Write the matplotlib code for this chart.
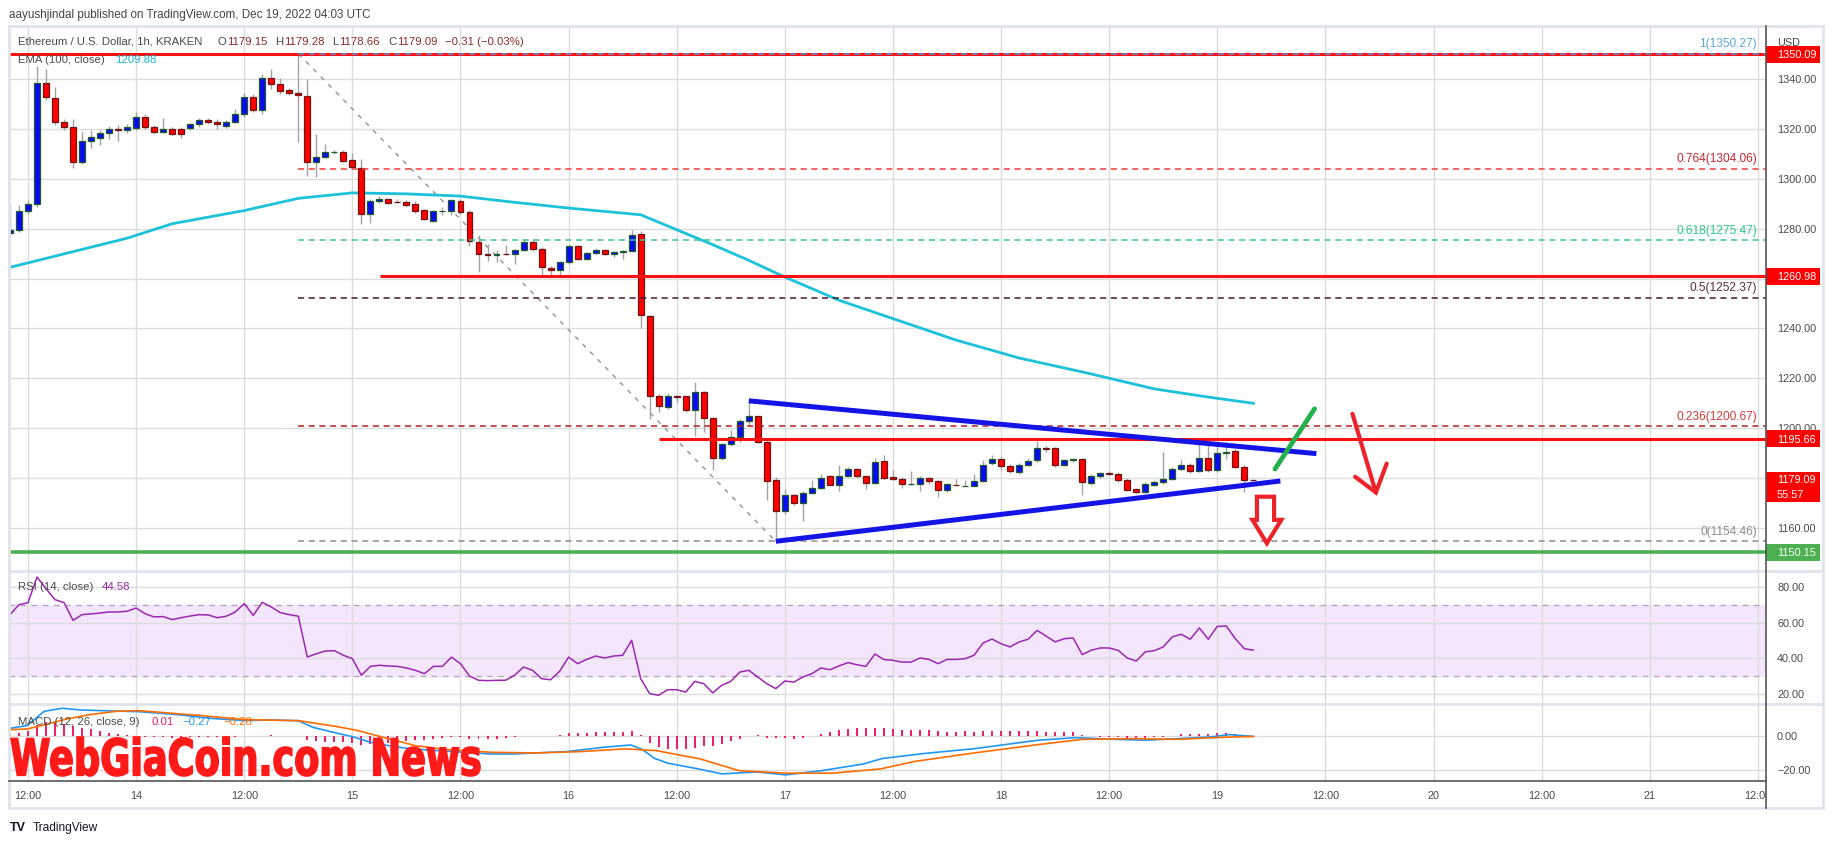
import matplotlib
matplotlib.use("Agg")
import matplotlib.pyplot as plt
from matplotlib import transforms
from matplotlib.font_manager import FontProperties
from matplotlib.lines import Line2D
from matplotlib.patches import PathPatch, Polygon, Rectangle
from matplotlib.textpath import TextPath

plt.rcParams['font.family'] = ['Liberation Sans', 'DejaVu Sans']

# ---- data: ETH/USD 1h candles, hours counted from Dec 13 00:00 UTC ----
hours = list(range(10, 149))
opens = [
    1278.3, 1279.3, 1287.3, 1290.0, 1338.7, 1332.3, 1323.0, 1320.7, 1306.7, 1315.3,
    1316.4, 1318.3, 1319.9, 1319.5, 1320.3, 1325.0, 1320.7, 1319.0, 1320.0, 1320.0,
    1320.3, 1322.0, 1323.6, 1323.0, 1321.3, 1323.0, 1325.9, 1332.7, 1327.7, 1340.7,
    1338.3, 1335.7, 1334.7, 1333.3, 1306.7, 1308.7, 1310.7, 1311.0, 1307.6, 1304.3,
    1286.1, 1291.2, 1292.0, 1290.9, 1290.8, 1289.9, 1287.5, 1283.3, 1287.1, 1287.1,
    1291.2, 1286.7, 1274.7, 1269.9, 1269.6, 1269.9, 1269.7, 1271.5, 1274.7, 1272.0,
    1264.3, 1263.3, 1266.7, 1273.0, 1267.9, 1270.3, 1271.5, 1269.7, 1270.7, 1271.0,
    1277.9, 1244.9, 1212.7, 1208.3, 1212.8, 1212.7, 1207.3, 1214.3, 1203.9, 1187.9,
    1193.5, 1196.3, 1202.7, 1204.7, 1194.3, 1179.2, 1166.7, 1172.9, 1169.9, 1173.9,
    1175.9, 1180.7, 1177.3, 1180.9, 1183.5, 1180.7, 1177.9, 1186.8, 1180.2, 1179.5,
    1177.5, 1177.5, 1179.9, 1178.7, 1175.2, 1177.3, 1176.8, 1176.9, 1178.7, 1185.9,
    1187.5, 1184.7, 1182.3, 1185.3, 1187.1, 1192.0, 1191.8, 1185.1, 1187.3, 1187.6,
    1177.9, 1180.6, 1182.0, 1181.7, 1179.3, 1175.3, 1174.4, 1177.3, 1178.4, 1179.7,
    1183.7, 1185.3, 1182.8, 1188.0, 1183.0, 1190.0, 1190.9, 1184.4, 1179.15,
]
highs = [
    1289.5, 1289.7, 1291.5, 1345.3, 1344.0, 1337.0, 1324.0, 1324.0, 1318.9, 1319.7,
    1319.5, 1321.1, 1321.5, 1322.0, 1326.7, 1326.0, 1321.5, 1324.3, 1321.0, 1321.0,
    1322.5, 1324.3, 1324.5, 1324.0, 1323.5, 1328.0, 1334.7, 1334.0, 1342.0, 1344.0,
    1340.7, 1336.5, 1350.3, 1340.0, 1318.0, 1314.0, 1311.5, 1311.5, 1310.4, 1308.0,
    1292.0, 1293.3, 1292.5, 1292.0, 1291.5, 1291.2, 1288.0, 1287.5, 1288.7, 1291.8,
    1291.8, 1287.5, 1277.6, 1274.0, 1271.3, 1273.6, 1272.0, 1276.0, 1276.0, 1272.7,
    1265.0, 1267.0, 1273.5, 1273.3, 1270.8, 1272.3, 1271.9, 1271.0, 1271.5, 1279.3,
    1278.9, 1245.5, 1213.5, 1214.0, 1213.3, 1213.0, 1218.5, 1214.8, 1204.5, 1194.0,
    1199.0, 1203.5, 1211.3, 1205.0, 1195.0, 1180.5, 1175.3, 1173.5, 1174.5, 1179.3,
    1181.6, 1181.2, 1185.2, 1184.3, 1184.0, 1181.2, 1187.9, 1189.2, 1183.3, 1180.3,
    1182.8, 1180.6, 1180.4, 1179.2, 1178.0, 1179.6, 1179.3, 1181.6, 1187.2, 1189.2,
    1188.2, 1185.5, 1186.0, 1188.0, 1194.9, 1192.8, 1192.4, 1187.6, 1188.0, 1188.0,
    1181.5, 1182.5, 1182.6, 1182.3, 1179.8, 1175.8, 1178.2, 1179.0, 1190.4, 1184.4,
    1187.0, 1186.0, 1193.7, 1193.0, 1193.7, 1194.4, 1191.5, 1185.0, 1179.28,
]
lows = [
    1276.5, 1278.5, 1286.0, 1288.7, 1331.5, 1321.5, 1319.5, 1304.3, 1306.0, 1312.3,
    1313.7, 1316.0, 1315.3, 1318.5, 1319.5, 1320.0, 1318.0, 1318.5, 1317.5, 1316.3,
    1319.5, 1321.0, 1322.0, 1320.0, 1320.5, 1322.5, 1325.0, 1327.0, 1326.0, 1336.0,
    1334.0, 1333.5, 1314.7, 1301.0, 1300.7, 1308.3, 1310.0, 1306.7, 1304.5, 1281.7,
    1282.4, 1290.5, 1290.0, 1290.4, 1289.2, 1286.5, 1283.5, 1282.8, 1285.6, 1285.7,
    1286.0, 1273.1, 1262.7, 1267.0, 1266.7, 1269.5, 1265.7, 1271.0, 1271.2, 1261.3,
    1260.7, 1260.7, 1266.0, 1267.5, 1267.5, 1270.0, 1269.3, 1268.7, 1268.0, 1270.5,
    1240.3, 1203.6, 1206.3, 1207.5, 1210.5, 1206.5, 1196.9, 1198.3, 1183.0, 1187.0,
    1192.8, 1194.3, 1201.0, 1194.0, 1170.9, 1154.5, 1165.5, 1169.0, 1162.7, 1173.5,
    1175.5, 1177.0, 1174.5, 1180.5, 1180.0, 1175.3, 1177.5, 1179.5, 1179.0, 1176.0,
    1177.2, 1174.8, 1177.5, 1172.3, 1174.2, 1176.8, 1176.5, 1176.5, 1178.2, 1185.2,
    1183.2, 1182.0, 1181.6, 1184.8, 1186.5, 1190.5, 1184.5, 1184.6, 1186.5, 1173.1,
    1177.2, 1180.0, 1181.2, 1178.5, 1174.6, 1173.9, 1173.9, 1176.6, 1177.6, 1179.2,
    1183.2, 1181.9, 1182.2, 1182.4, 1182.3, 1187.5, 1183.8, 1174.4, 1178.66,
]
closes = [
    1279.6, 1287.3, 1290.0, 1338.7, 1332.7, 1323.0, 1320.7, 1306.7, 1315.3, 1316.7,
    1318.3, 1319.9, 1319.5, 1320.7, 1325.0, 1321.0, 1318.9, 1320.0, 1318.0, 1317.9,
    1321.9, 1323.6, 1322.7, 1321.9, 1322.9, 1325.9, 1332.7, 1327.7, 1340.7, 1338.3,
    1335.3, 1334.7, 1333.7, 1306.7, 1308.7, 1310.7, 1311.0, 1307.3, 1304.7, 1286.0,
    1291.2, 1292.0, 1290.5, 1290.7, 1289.7, 1287.1, 1283.9, 1287.1, 1287.3, 1291.6,
    1286.7, 1274.9, 1269.7, 1269.3, 1269.9, 1269.8, 1271.5, 1274.7, 1271.7, 1264.7,
    1263.3, 1266.7, 1273.0, 1267.9, 1270.3, 1271.5, 1269.7, 1270.7, 1271.0, 1277.5,
    1245.5, 1212.7, 1208.7, 1212.7, 1212.5, 1207.3, 1214.3, 1203.9, 1187.9, 1193.5,
    1196.3, 1202.7, 1204.7, 1194.3, 1178.7, 1166.7, 1172.9, 1169.9, 1173.9, 1175.9,
    1180.1, 1177.3, 1180.9, 1183.5, 1180.7, 1177.9, 1186.5, 1180.1, 1179.5, 1177.5,
    1177.6, 1179.9, 1178.7, 1175.2, 1177.5, 1177.2, 1176.9, 1178.7, 1185.2, 1187.5,
    1184.7, 1182.7, 1185.2, 1186.9, 1192.0, 1191.5, 1185.1, 1187.1, 1187.5, 1178.2,
    1180.9, 1181.9, 1181.7, 1179.1, 1175.1, 1174.4, 1177.7, 1178.4, 1179.7, 1183.7,
    1185.3, 1182.7, 1188.0, 1183.0, 1190.0, 1190.5, 1184.4, 1179.2, 1179.09,
]

ema_hours = [10, 16, 23, 28, 36, 42, 48, 54, 60, 66, 72, 80, 84, 88, 92, 96, 102,
             108, 115, 122, 130, 137, 143, 148]
ema_values = [1264.5, 1269.9, 1276.2, 1282.0, 1287.3, 1292.2, 1294.4, 1294.0, 1293.1,
              1290.6, 1288.3, 1285.6, 1279.6, 1273.6, 1267.3, 1260.6, 1251.3, 1243.9,
              1235.3, 1228.1, 1221.7, 1215.7, 1212.4, 1209.9]

rsi_values = [
    64.5, 70.1, 71.2, 85.6, 79.0, 72.9, 71.2, 61.3, 64.5, 64.9,
    65.4, 66.0, 66.0, 66.4, 68.2, 65.0, 63.2, 63.4, 61.7, 62.8,
    63.7, 64.5, 64.3, 62.8, 63.6, 66.0, 70.7, 64.1, 71.4, 68.8,
    65.6, 64.5, 63.6, 40.7, 42.6, 44.1, 44.3, 41.7, 39.8, 30.5,
    35.5, 36.1, 35.7, 35.5, 34.6, 33.3, 31.4, 35.5, 35.5, 40.7,
    37.0, 30.1, 27.7, 27.5, 27.7, 27.7, 30.5, 35.1, 33.3, 28.6,
    28.0, 32.7, 40.7, 37.0, 39.4, 41.3, 40.2, 41.3, 41.7, 50.1,
    28.6, 20.2, 19.3, 22.4, 22.4, 21.1, 27.1, 25.8, 20.6, 24.9,
    27.1, 32.3, 33.3, 29.5, 25.8, 23.0, 27.3, 26.7, 29.5, 31.4,
    34.6, 33.6, 35.7, 37.6, 36.4, 35.5, 42.4, 39.3, 38.9, 37.9,
    37.9, 40.2, 39.4, 37.0, 39.4, 39.4, 39.8, 41.7, 48.6, 50.8,
    48.2, 46.4, 49.2, 50.7, 55.7, 52.5, 49.2, 51.0, 51.4, 42.1,
    44.5, 45.8, 45.8, 44.5, 40.2, 38.5, 43.6, 44.3, 46.4, 52.0,
    53.5, 50.7, 57.0, 50.7, 57.9, 58.1, 51.0, 45.4, 44.58,
]

macd_hours = [10, 11.9, 13.8, 15.8, 17.8, 21.3, 24.3, 28.7, 32.2, 36.1, 38.6, 42,
              43.6, 45.6, 48, 50, 52, 54.5, 57.4, 60.4, 63.4, 65.9, 68.3, 71.8, 75.8,
              78.9, 80.2, 81.5, 83, 86.4, 89, 92.9, 96.1, 100.1, 104.7, 106.8, 111.3,
              117, 124.1, 128.3, 132.6, 136.1, 139.6, 143.2, 145.3, 148]
macd_values = [4.5, 6.1, 14.5, 16.3, 15.3, 14.7, 14.3, 12.5, 10.4, 9.0, 9.4, 9.0,
               5.1, 2.5, -0.4, -3.7, -5.7, -7.6, -8.6, -9.6, -10.6, -10.6, -10.0, -9.2,
               -6.7, -5.3, -8.0, -13.1, -16.0, -19.4, -22.3, -21.2, -22.9, -20.4, -16.5,
               -13.3, -10.4, -7.5, -2.5, -1.0, -2.0, -2.5, -1.6, -0.6, 0.8, -0.27]
signal_hours = [10, 11.9, 13.8, 16.3, 18.8, 21.8, 24.3, 26.7, 31.2, 36.1, 42, 46.1,
                48.5, 52, 55, 58.4, 63.4, 68.3, 73.3, 78.3, 81.7, 86.6, 90.9, 96.1,
                101.3, 106.6, 110.4, 117, 124.1, 129, 134.7, 139.6, 144.6, 148]
signal_values = [3.7, 4.1, 6.5, 10.0, 12.5, 14.5, 14.9, 13.9, 12.0, 9.6, 9.0, 5.7,
                 3.3, -1.6, -5.7, -8.0, -9.6, -10.0, -9.2, -7.6, -8.6, -13.5, -20.4,
                 -21.9, -21.9, -19.4, -15.0, -10.0, -5.1, -2.0, -1.6, -2.0, -0.8, -0.28]
hist_values = [
    1.0, 1.8, 3.0, 6.5, 8.0, 8.0, 7.0, 5.8, 4.8, 3.8,
    2.8, 2.0, 1.2, 0.5, -0.2, -0.5, -0.8, -0.9, -1.0, -1.0,
    -0.9, -0.9, -0.8, -0.8, -0.7, -0.5, -0.3, -0.3, 0.2, 0.3,
    0.2, 0.0, -0.1, -2.2, -3.0, -3.4, -3.6, -3.8, -4.0, -5.2,
    -5.0, -4.6, -4.2, -3.6, -3.0, -2.6, -2.4, -1.8, -1.4, -0.6,
    -0.5, -1.6, -2.0, -1.9, -1.6, -1.2, -0.8, -0.2, 0.0, -0.3,
    -0.2, 0.4, 1.5, 1.6, 1.9, 2.2, 2.2, 2.3, 2.3, 3.2,
    0.5, -4.0, -6.5, -7.5, -7.8, -7.5, -7.0, -5.9, -5.9, -4.5,
    -3.1, -1.6, -0.2, 0.6, -1.2, -1.2, -1.2, -1.6, -1.2, 0.0,
    1.4, 2.4, 3.3, 4.3, 4.7, 4.9, 4.9, 4.5, 4.1, 3.7,
    3.5, 3.3, 3.3, 2.7, 2.5, 2.5, 2.7, 2.5, 2.9, 3.1,
    3.1, 3.1, 3.1, 3.1, 3.1, 2.5, 2.5, 2.2, 2.2, 0.4,
    0.0, -0.4, -0.4, -0.8, -1.2, -1.2, -1.2, -0.8, -0.4, 0.0,
    1.0, 1.2, 1.4, 1.4, 2.0, 1.6, 1.2, 0.4, 0.01,
]

# fibonacci retracement drawn from the 1350.27 top to the 1154.46 low
fib_start = 42
fib_end = 95
fib_names = ['1', '0.764', '0.618', '0.5', '0.236', '0']
fib_prices = [1350.27, 1304.06, 1275.47, 1252.37, 1200.67, 1154.46]
fib_line_colors = ['#5b8fd6', '#f23b3b', '#3cc49a', '#4a1a2a', '#b22222', '#8c8c8c']
fib_text_colors = ['#5ea6da', '#c62832', '#2ec78e', '#5c2a3f', '#d23b3b', '#8c8c8c']

# horizontal levels: price, start hour, colour
level_prices = [1350.09, 1260.98, 1195.66, 1150.15]
level_starts = [9.89, 51.1, 82.0, 9.89]
level_colors = ['#ff1010', '#ff1010', '#ff1010', '#4caf50']

# hand drawn pattern lines
tri_upper_h, tri_upper_p = [92, 155], [1210.9, 1189.7]
tri_lower_h, tri_lower_p = [95, 151], [1154.5, 1178.7]
green_h, green_p = [150.4, 154.8], [1183.5, 1207.7]
arrow_shaft_h, arrow_shaft_p = [159.0, 161.6], [1205.7, 1174.1]
arrow_head_h, arrow_head_p = [159.3, 161.6, 162.8], [1180.4, 1174.1, 1185.7]
hollow_h = [148.4, 148.4, 150.3, 150.3, 151.1, 149.5, 147.9]
hollow_p = [1163.1, 1172.4, 1172.4, 1163.1, 1163.1, 1153.7, 1163.1]

tick_hours = list(range(12, 205, 12))
tick_labels = ['12:00', '14', '12:00', '15', '12:00', '16', '12:00', '17', '12:00',
               '18', '12:00', '19', '12:00', '20', '12:00', '21', '12:00']
price_ticks = list(range(1160, 1341, 20))
rsi_ticks = [20, 40, 60, 80]
macd_ticks = [-20, 0]

# ---- layout (pixels of the 1834x845 image) ----
W, H = 1834, 845
L, R = 9, 1766
XLIM = (9.89, 204.9)


def fx(px):
    return px / W


def fy(py):
    return 1 - py / H


fig = plt.figure(figsize=(W / 100, H / 100), dpi=100)
fig.patch.set_facecolor('white')


def add_pane(top, bottom, ylim, yticks):
    a = fig.add_axes([fx(L), fy(bottom), (R - L) / W, (bottom - top) / H])
    a.set_xlim(*XLIM)
    a.set_ylim(*ylim)
    for s in a.spines.values():
        s.set_visible(False)
    a.set_xticks(tick_hours)
    a.set_yticks(yticks)
    a.tick_params(length=0, labelbottom=False, labelleft=False)
    a.grid(True, color='#dcdcdc', linewidth=1)
    a.set_axisbelow(True)
    return a


ax = add_pane(28, 572, (1142.57, 1361.0), price_ticks)
ax_rsi = add_pane(572, 705, (14.4, 88.96), rsi_ticks)
ax_macd = add_pane(705, 782, (-26.5, 18.8), macd_ticks)

AXIS_COLOR = '#4a4a4a'


def right_text(a, val, s, color=AXIS_COLOR, **kw):
    tr = transforms.blended_transform_factory(fig.transFigure, a.transData)
    return a.text(fx(1777), val, s, transform=tr, fontsize=7.8, color=color,
                  va='center', ha='left', clip_on=False, **kw)


def price_box(a, val, s, color, h_px=17):
    tr = transforms.blended_transform_factory(fig.transFigure, a.transData)
    y0, y1 = a.get_ylim()
    bbox = a.get_position()
    per_px = (y1 - y0) / (bbox.height * H)
    a.add_patch(Rectangle((fx(1766), val - h_px / 2 * per_px), 54 / W, h_px * per_px,
                          transform=tr, facecolor=color, edgecolor='none',
                          clip_on=False, zorder=20))
    right_text(a, val, s, color='white', zorder=21)


# ---- main pane ----
for h, o, hi, lo, c in zip(hours, opens, highs, lows, closes):
    up = c >= o
    ax.vlines(h, lo, hi, color='#a3a3a3', linewidth=1, zorder=3)
    ax.add_patch(Rectangle((h - 0.33, min(o, c)), 0.66, abs(c - o),
                           facecolor='#0a0af2' if up else '#ff0000',
                           edgecolor='#1e5b2c' if up else '#6e1616',
                           linewidth=0.9, zorder=4))

ax.plot(ema_hours, ema_values, color='#1cc2da', linewidth=2, zorder=2.5)

for p, start, col in zip(level_prices, level_starts, level_colors):
    ax.hlines(p, start, XLIM[1], color=col, linewidth=2.2 if col != '#4caf50' else 2.6,
              zorder=5)

ax.plot([fib_start, fib_end], [fib_prices[0], fib_prices[-1]], color='#9a9a9a',
        linewidth=1.1, linestyle=(0, (3, 4)), zorder=2)
tr_fib = transforms.blended_transform_factory(fig.transFigure, ax.transData)
tr_fib = transforms.offset_copy(tr_fib, fig=fig, y=10.5, units='dots')
for name, p, lc, tc in zip(fib_names, fib_prices, fib_line_colors, fib_text_colors):
    ax.hlines(p, fib_start, XLIM[1], color=lc, linewidth=1.1,
              linestyle=(0, (4, 3)), zorder=5.5)
    ax.text(fx(1757), p, f'{name}({p:.2f})', transform=tr_fib, ha='right',
            va='center', fontsize=8.6, color=tc, zorder=6)

ax.plot(tri_upper_h, tri_upper_p, color='#1414e6', linewidth=3.6, zorder=7,
        solid_capstyle='butt')
ax.plot(tri_lower_h, tri_lower_p, color='#1414e6', linewidth=3.6, zorder=7,
        solid_capstyle='butt')
ax.plot(green_h, green_p, color='#22b04a', linewidth=3.4, zorder=7,
        solid_capstyle='round')
ax.plot(arrow_shaft_h, arrow_shaft_p, color='#ee2229', linewidth=3, zorder=7,
        solid_capstyle='round')
ax.plot(arrow_head_h, arrow_head_p, color='#ee2229', linewidth=3, zorder=7,
        solid_capstyle='round', solid_joinstyle='miter')
ax.add_patch(Polygon(list(zip(hollow_h, hollow_p)), closed=True, fill=False,
                     edgecolor='#ee2229', linewidth=3, zorder=7))

for p in price_ticks:
    right_text(ax, p, f'{p:.2f}')
right_text(ax, 1361.0 - 6.0, 'USD')
price_box(ax, 1350.09, '1350.09', '#ff0000')
price_box(ax, 1260.98, '1260.98', '#ff0000')
price_box(ax, 1195.66, '1195.66', '#ff0000')
price_box(ax, 1150.15, '1150.15', '#4caf50')
# last price with countdown
tr_r = transforms.blended_transform_factory(fig.transFigure, ax.transData)
ax.add_patch(Rectangle((fx(1766), 1170.3), 54 / W, 12.0, transform=tr_r,
                       facecolor='#ff0000', edgecolor='none', clip_on=False, zorder=20))
right_text(ax, 1179.6, '1179.09', color='white', zorder=21)
right_text(ax, 1173.6, '55:57', color='white', zorder=21)

# ---- RSI pane ----
ax_rsi.axhspan(30, 70, color='#f3e6fd', zorder=0)
for lvl in (30, 70):
    ax_rsi.axhline(lvl, color='#b4a8bd', linewidth=1, linestyle=(0, (4, 4)))
ax_rsi.plot(hours, rsi_values, color='#9c27b0', linewidth=1.1, zorder=3)
for v in rsi_ticks:
    right_text(ax_rsi, v, f'{v:.2f}')

# ---- MACD pane ----
ax_macd.bar(hours, hist_values, width=0.22, color='#ef1f6a', zorder=2)
ax_macd.plot(macd_hours, macd_values, color='#2196f3', linewidth=1.2, zorder=3)
ax_macd.plot(signal_hours, signal_values, color='#ff6d00', linewidth=1.2, zorder=3)
for v in macd_ticks:
    right_text(ax_macd, v, f'{v:.2f}'.replace('-', '\u2212'))

# ---- time axis labels (last one is cut by the price scale) ----
tr_x = transforms.blended_transform_factory(ax_macd.transData, fig.transFigure)
clip = transforms.Bbox.from_extents(L, 0, R, H)
for h, lab in zip(tick_hours, tick_labels):
    t = fig.text(h, fy(796), lab, transform=tr_x, ha='center', va='center',
                 fontsize=7.8, color=AXIS_COLOR)
    t.set_clip_box(clip)
    t.set_clip_on(True)


# ---- frame lines ----
def fig_line(x0, y0, x1, y1, color, lw):
    fig.add_artist(Line2D([fx(x0), fx(x1)], [fy(y0), fy(y1)], transform=fig.transFigure,
                          color=color, linewidth=lw, zorder=30))


fig.add_artist(Rectangle((fx(9), fy(809)), (1823 - 9) / W, (809 - 27) / H,
                         transform=fig.transFigure, fill=False, edgecolor='#e0e3eb',
                         linewidth=2, zorder=29))
fig_line(9, 572, 1823, 572, '#e0e3eb', 2)
fig_line(9, 705, 1823, 705, '#e0e3eb', 2)
fig_line(9, 782, 1766, 782, '#555555', 1.2)
fig_line(1766, 27, 1766, 809, '#555555', 1.2)

# ---- legends / header ----
fig.text(fx(9), fy(15), 'aayushjindal published on TradingView.com, Dec 19, 2022 04:03 UTC',
         fontsize=8.4, color='#444444', va='center')
fig.text(fx(18), fy(42), 'Ethereum / U.S. Dollar, 1h, KRAKEN', fontsize=8.2,
         color=AXIS_COLOR, va='center')
ohlc_keys = ['O', 'H', 'L', 'C']
ohlc_vals = ['1179.15', '1179.28', '1178.66', '1179.09']
ohlc_x = [218, 275, 332, 388]
ohlc_gap = [9.5, 9, 7, 9]
for k, v, x, g in zip(ohlc_keys, ohlc_vals, ohlc_x, ohlc_gap):
    fig.text(fx(x), fy(42), k, fontsize=8.2, color=AXIS_COLOR, va='center')
    fig.text(fx(x + g), fy(42), v, fontsize=8.2, color='#8b2b2b', va='center')
fig.text(fx(445), fy(42), '\u22120.31 (\u22120.03%)', fontsize=8.2, color='#8b2b2b',
         va='center')
fig.text(fx(18), fy(60), 'EMA (100, close)', fontsize=8.2, color=AXIS_COLOR, va='center')
fig.text(fx(115), fy(60), '1209.88', fontsize=8.2, color='#14b8d4', va='center')
fig.text(fx(18), fy(587), 'RSI (14, close)', fontsize=8.2, color=AXIS_COLOR, va='center')
fig.text(fx(102), fy(587), '44.58', fontsize=8.2, color='#9c27b0', va='center')
fig.text(fx(18), fy(722), 'MACD (12, 26, close, 9)', fontsize=8.2, color=AXIS_COLOR,
         va='center')
fig.text(fx(152), fy(722), '0.01', fontsize=8.2, color='#e91e63', va='center')
fig.text(fx(182), fy(722), '\u22120.27', fontsize=8.2, color='#2196f3', va='center')
fig.text(fx(223), fy(722), '\u22120.28', fontsize=8.2, color='#ff6d00', va='center')

fig.text(fx(10), fy(828), 'TV', fontsize=9, weight='bold', color='#131722', va='center')
fig.text(fx(33), fy(828), 'TradingView', fontsize=8.6, color='#131722', va='center')

# ---- watermark: heavy condensed lettering squeezed into its box ----
fp = FontProperties(family=['DejaVu Sans'], weight='bold')
tp = TextPath((0, 0), 'WebGiaCoin.com News', size=50, prop=fp)
ext = tp.get_extents()
wm = transforms.Affine2D().translate(-ext.x0, -ext.y0).scale(
    (480 - 11) / ext.width, (777 - 738) / ext.height).translate(11, H - 777)
fig.add_artist(PathPatch(tp, transform=wm, facecolor='#ff1a1a', edgecolor='#ff1a1a',
                         linewidth=1.2, zorder=40))

fig.savefig('out.png', dpi=100)
